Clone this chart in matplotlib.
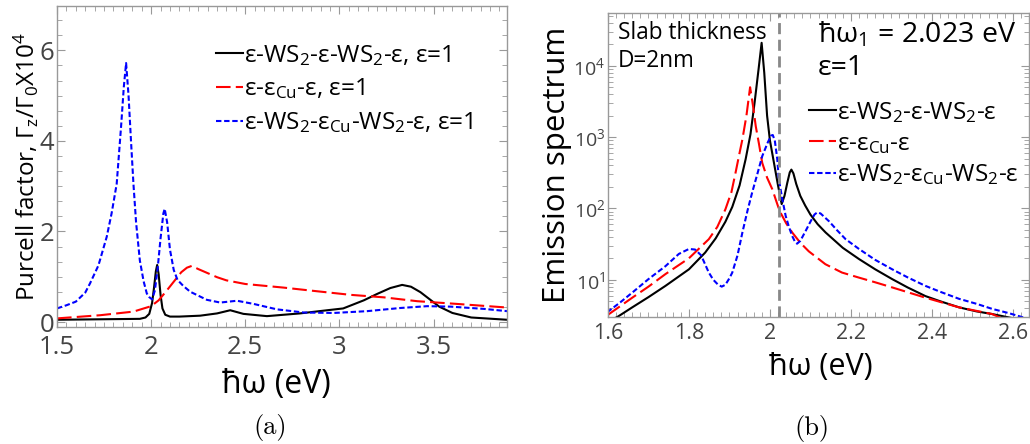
import numpy as np
import matplotlib
matplotlib.use("Agg")
import matplotlib.pyplot as plt
from matplotlib.ticker import MultipleLocator, LogLocator, FixedLocator, NullFormatter

plt.rcParams['font.family'] = ['Open Sans', 'DejaVu Sans']
plt.rcParams['mathtext.fontset'] = 'custom'
plt.rcParams['mathtext.rm'] = 'Open Sans'
plt.rcParams['mathtext.it'] = 'Open Sans:italic'
plt.rcParams['mathtext.bf'] = 'Open Sans:bold'

# ---- panel (a): Purcell factor ----
a_black_x = [1.5, 1.94, 1.97, 1.99, 2.005, 2.015, 2.025, 2.032, 2.04, 2.05, 2.06, 2.075, 2.1,
             2.15, 2.26, 2.35, 2.42, 2.49, 2.615, 2.79, 2.935, 3.02, 3.13, 3.2, 3.27, 3.333,
             3.38, 3.43, 3.48, 3.53, 3.6, 3.7, 3.89]
a_black_y = [0.05, 0.07, 0.10, 0.18, 0.42, 0.75, 1.12, 1.26, 1.05, 0.60, 0.30, 0.16, 0.12,
             0.12, 0.14, 0.19, 0.26, 0.18, 0.13, 0.19, 0.26, 0.30, 0.48, 0.62, 0.75, 0.82,
             0.78, 0.66, 0.50, 0.34, 0.20, 0.10, 0.05]

a_red_x = [1.5, 1.729, 1.906, 2.0, 2.04, 2.08, 2.12, 2.16, 2.19, 2.216, 2.25, 2.3, 2.35,
           2.4, 2.5, 2.704, 2.88, 3.06, 3.236, 3.413, 3.59, 3.89]
a_red_y = [0.08, 0.15, 0.23, 0.35, 0.48, 0.68, 0.89, 1.10, 1.20, 1.24, 1.17, 1.08, 0.99,
           0.92, 0.84, 0.76, 0.68, 0.60, 0.545, 0.46, 0.41, 0.32]

a_blue_x = [1.5, 1.55, 1.6, 1.65, 1.675, 1.72, 1.764, 1.79, 1.817, 1.84, 1.855, 1.867, 1.88,
            1.893, 1.906, 1.92, 1.94, 1.96, 1.977, 1.99, 2.005, 2.02, 2.035, 2.05, 2.065,
            2.072, 2.085, 2.1, 2.12, 2.14, 2.17, 2.207, 2.296, 2.367, 2.456, 2.544, 2.668,
            2.81, 2.97, 3.147, 3.324, 3.466, 3.59, 3.768, 3.89]
a_blue_y = [0.30, 0.37, 0.45, 0.65, 0.85, 1.25, 1.88, 2.4, 3.05, 4.3, 5.2, 5.72, 5.0,
            4.0, 3.05, 2.2, 1.36, 0.9, 0.63, 0.55, 0.50, 0.70, 1.2, 1.85, 2.4,
            2.5, 2.2, 1.6, 1.15, 0.93, 0.80, 0.67, 0.49, 0.43, 0.47, 0.40, 0.28,
            0.21, 0.20, 0.24, 0.31, 0.35, 0.34, 0.29, 0.24]

# ---- panel (b): emission spectrum ----
b_black_x = [1.6, 1.623, 1.66, 1.7, 1.742, 1.8, 1.84, 1.866, 1.89, 1.907, 1.925, 1.94, 1.952,
             1.962, 1.972, 1.9795, 1.986, 1.993, 2.0, 2.01, 2.02, 2.029, 2.036, 2.043, 2.049,
             2.053, 2.058, 2.065, 2.075, 2.087, 2.1, 2.118, 2.1375, 2.18, 2.22, 2.26, 2.302,
             2.34, 2.384, 2.42, 2.467, 2.51, 2.549, 2.585, 2.64]
b_black_y = [2.6, 3.0, 4.1, 5.7, 8.2, 14, 24, 38, 65, 105, 210, 490, 1100,
             3000, 9000, 21000, 8000, 2000, 900, 435, 210, 115, 150, 230, 320,
             350, 310, 220, 150, 110, 82, 60, 46, 28, 19.5, 14, 10.2,
             7.8, 5.9, 5.0, 4.1, 3.6, 3.3, 3.0, 2.6]

b_red_x = [1.6, 1.6025, 1.66, 1.7, 1.742, 1.8, 1.849, 1.87, 1.89, 1.905, 1.915, 1.925, 1.932,
           1.942, 1.951, 1.958, 1.965, 1.973, 1.981, 1.993, 2.006, 2.015, 2.024, 2.04, 2.055,
           2.075, 2.096, 2.137, 2.178, 2.22, 2.26, 2.302, 2.384, 2.467, 2.549, 2.565, 2.64]
b_red_y = [3.2, 3.3, 5.6, 8.0, 12, 20, 37, 55, 97, 170, 315, 600, 930,
           2000, 5000, 2800, 1420, 800, 435, 270, 185, 130, 92, 62, 46,
           33, 25, 16.5, 12.6, 10.7, 9.2, 7.8, 5.6, 4.1, 3.3, 3.0, 2.5]

b_blue_x = [1.598, 1.63, 1.66, 1.70, 1.742, 1.775, 1.80, 1.815, 1.83, 1.849, 1.86, 1.872,
            1.881, 1.89, 1.9, 1.907, 1.92, 1.932, 1.945, 1.956, 1.97, 1.981, 1.995, 2.003,
            2.007, 2.012, 2.018, 2.022, 2.03, 2.039, 2.047, 2.055, 2.062, 2.067, 2.075,
            2.088, 2.1, 2.11, 2.117, 2.125, 2.146, 2.165, 2.187, 2.22, 2.26, 2.302, 2.34,
            2.384, 2.42, 2.467, 2.51, 2.549, 2.59, 2.631]
b_blue_y = [3.5, 4.8, 6.6, 10.2, 15.5, 23, 27, 26.5, 22, 12.6, 10, 8.5,
            8.0, 8.5, 10.5, 12.6, 22, 46, 95, 166, 320, 540, 850, 1050,
            1070, 900, 500, 260, 140, 78, 55, 41, 34, 32, 35,
            48, 65, 82, 88, 85, 66, 50, 37, 27, 19, 14, 10.8,
            8.2, 6.8, 5.4, 4.6, 3.9, 3.4, 2.9]

omega1 = 2.023

labels_a = [r'ε-WS$_2$-ε-WS$_2$-ε, ε=1',
            r'ε-ε$_{\mathrm{Cu}}$-ε, ε=1',
            r'ε-WS$_2$-ε$_{\mathrm{Cu}}$-WS$_2$-ε, ε=1']
labels_b = [r'ε-WS$_2$-ε-WS$_2$-ε',
            r'ε-ε$_{\mathrm{Cu}}$-ε',
            r'ε-WS$_2$-ε$_{\mathrm{Cu}}$-WS$_2$-ε']

W, H = 1030, 444
fig = plt.figure(figsize=(W / 100, H / 100), dpi=100)

frame_col = '#999999'
tick_col = '#444444'


def style_axes(ax, size):
    for s in ax.spines.values():
        s.set_color(frame_col)
        s.set_linewidth(1.0)
    ax.tick_params(which='both', direction='in', top=True, right=True, color=frame_col,
                   labelcolor=tick_col, labelsize=size)
    ax.tick_params(which='major', length=6)
    ax.tick_params(which='minor', length=3.5)


ls_red = (0, (7, 2.5))
ls_blue = (0, (2.6, 1.3))

# panel (a)
ax1 = fig.add_axes([57 / W, 1 - 327 / H, 450 / W, 321 / H])
ax1.plot(a_black_x, a_black_y, color='black', lw=1.5, label=labels_a[0])
ax1.plot(a_red_x, a_red_y, color='red', lw=1.5, ls=ls_red, label=labels_a[1])
ax1.plot(a_blue_x, a_blue_y, color='blue', lw=1.5, ls=ls_blue, label=labels_a[2])
ax1.set_xlim(1.5, 3.89)
ax1.set_ylim(-0.11, 6.98)
ax1.xaxis.set_major_locator(FixedLocator([1.5, 2, 2.5, 3, 3.5]))
ax1.set_xticklabels(['1.5', '2', '2.5', '3', '3.5'])
ax1.xaxis.set_minor_locator(MultipleLocator(0.05))
ax1.yaxis.set_major_locator(FixedLocator([0, 2, 4, 6]))
ax1.yaxis.set_minor_locator(MultipleLocator(1 / 3))
style_axes(ax1, 18.5)
ax1.tick_params(axis='x', pad=6)
ax1.tick_params(axis='y', pad=2)
ax1.legend(loc='upper left', bbox_to_anchor=(216 / W, 1 - 43 / H), bbox_transform=fig.transFigure,
           frameon=False, fontsize=17.5, handlelength=1.1, handletextpad=0.05,
           labelspacing=0.36, borderpad=0, borderaxespad=0)

# panel (b)
ax2 = fig.add_axes([608 / W, 1 - 317 / H, 421 / W, 304 / H])
ax2.semilogy(b_black_x, b_black_y, color='black', lw=1.5, label=labels_b[0])
ax2.semilogy(b_red_x, b_red_y, color='red', lw=1.5, ls=ls_red, label=labels_b[1])
ax2.semilogy(b_blue_x, b_blue_y, color='blue', lw=1.5, ls=ls_blue, label=labels_b[2])
ax2.axvline(omega1, color='#888888', lw=2, ls=(0, (4, 2)))
ax2.set_xlim(1.6, 2.64)
ax2.set_ylim(3.0, 55000)
ax2.xaxis.set_major_locator(FixedLocator([1.6, 1.8, 2.0, 2.2, 2.4, 2.6]))
ax2.set_xticklabels(['1.6', '1.8', '2', '2.2', '2.4', '2.6'])
ax2.xaxis.set_minor_locator(MultipleLocator(0.02))
ax2.yaxis.set_major_locator(FixedLocator([10, 100, 1000, 10000]))
ax2.set_yticklabels([r'10$^{1}$', r'10$^{2}$', r'10$^{3}$', r'10$^{4}$'])
ax2.yaxis.set_minor_locator(LogLocator(base=10, subs=np.arange(2, 10)))
ax2.yaxis.set_minor_formatter(NullFormatter())
style_axes(ax2, 15.5)
ax2.tick_params(axis='y', labelsize=14, pad=2)
ax2.tick_params(axis='x', pad=4)
ax2.legend(loc='upper left', bbox_to_anchor=(809 / W, 1 - 100 / H), bbox_transform=fig.transFigure,
           frameon=False, fontsize=17.5, handlelength=1.1, handletextpad=0.05,
           labelspacing=0.28, borderpad=0, borderaxespad=0)

fig.text(618 / W, 1 - 33 / H, 'Slab thickness', fontsize=16.3, va='center', ha='left')
fig.text(618 / W, 1 - 61 / H, 'D=2nm', fontsize=16.3, va='center', ha='left')
fig.text(818 / W, 1 - 35 / H, r'ħω$_1$ = 2.023 eV', fontsize=20.5, va='center', ha='left')
fig.text(818 / W, 1 - 68 / H, 'ε=1', fontsize=20.5, va='center', ha='left')

# axis labels
fig.text(26 / W, 1 - 167 / H, r'Purcell factor, Γ$_{\mathrm{z}}$/Γ$_0$X10$^4$', fontsize=17.5,
         rotation=90, va='center', ha='center')
fig.text(276 / W, 1 - 384 / H, 'ħω (eV)', fontsize=23, va='center', ha='center')
fig.text(557 / W, 1 - 165 / H, 'Emission spectrum', fontsize=22.5, rotation=90,
         va='center', ha='center')
fig.text(821 / W, 1 - 367 / H, 'ħω (eV)', fontsize=22, va='center', ha='center')

fig.text(270 / W, 1 - 427 / H, '(a)', fontsize=19, family='cmr10', va='center', ha='center')
fig.text(812 / W, 1 - 428 / H, '(b)', fontsize=19, family='cmr10', va='center', ha='center')

fig.savefig('out.png', dpi=100)
